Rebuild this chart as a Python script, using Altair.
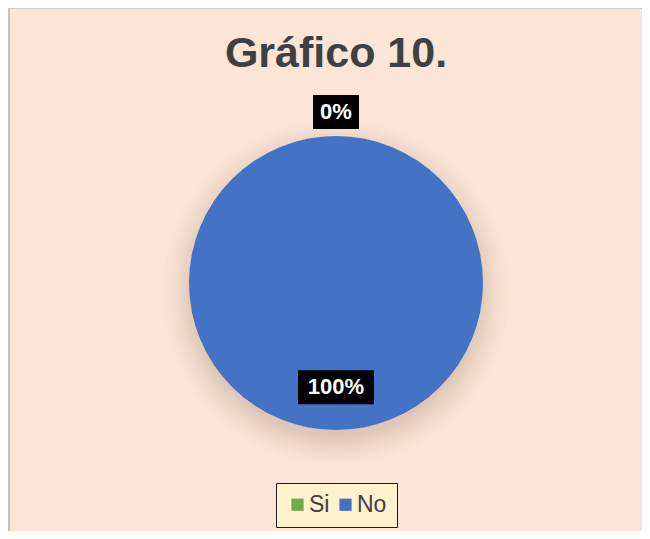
import altair as alt
import pandas as pd

# ---- data ----
titulo = "Gráfico 10."
categorias = ["Si", "No"]
valores = [0, 100]
etiquetas = ["0%", "100%"]
colores = ["#70AD47", "#4472C4"]

df = pd.DataFrame({"categoria": categorias, "valor": valores, "etiqueta": etiquetas})

# layout constants
W, H = 634, 523
CX, CY, R = 328, 275, 147

base = alt.Chart(df).transform_window(orden="row_number()")

theta = alt.Theta("valor:Q", stack=True, sort=None)
order = alt.Order("orden:Q")

shadow = base.mark_arc(
    radius=174,
    fill=alt.Gradient(
        gradient="radial",
        stops=[
            alt.GradientStop(color="rgba(130,100,85,0.30)", offset=0),
            alt.GradientStop(color="rgba(130,100,85,0.24)", offset=0.82),
            alt.GradientStop(color="rgba(130,100,85,0.09)", offset=0.91),
            alt.GradientStop(color="rgba(130,100,85,0.0)", offset=1),
        ],
    ),
).encode(theta=theta, order=order, x=alt.value(CX), y=alt.value(CY + 9))

pie = base.mark_arc(radius=R).encode(
    theta=theta,
    order=order,
    x=alt.value(CX),
    y=alt.value(CY),
    color=alt.Color(
        "categoria:N",
        scale=alt.Scale(domain=categorias, range=colores),
        sort=categorias,
        legend=alt.Legend(
            orient="none",
            legendX=268,
            legendY=475,
            direction="horizontal",
            title=None,
            fillColor="#FFF2CC",
            strokeColor="#1a1a1a",
            padding=10,
            symbolType="square",
            symbolSize=150,
            symbolStrokeWidth=0,
            labelFontSize=23,
            labelFont="Liberation Sans",
            labelColor="#404040",
            labelOffset=0,
            columnPadding=4,
        ),
    ),
)

lab = (
    base.transform_joinaggregate(total="sum(valor)")
    .transform_window(cum="sum(valor)", sort=[alt.SortField("orden")], frame=[None, 0])
    .transform_calculate(
        mid="(datum.cum - datum.valor/2) / datum.total * 2 * PI",
        r=f"datum.valor == 0 ? {R + 24} : {R * 0.71}",
    )
    .transform_calculate(
        lx=f"{CX} + datum.r * sin(datum.mid)",
        ly=f"{CY} - datum.r * cos(datum.mid)",
        hw="8 + 7.5 * length(datum.etiqueta)",
    )
    .transform_calculate(
        x1="datum.lx - datum.hw",
        x2="datum.lx + datum.hw",
        y1="datum.ly - 17",
        y2="datum.ly + 17",
    )
)

enc_box = dict(
    x=alt.X("x1:Q", scale=None), x2="x2:Q", y=alt.Y("y1:Q", scale=None), y2="y2:Q"
)
box_shadow1 = lab.mark_rect(color="black", opacity=0.10).encode(
    xOffset=alt.value(5), yOffset=alt.value(5), **enc_box
)
box_shadow2 = lab.mark_rect(color="black", opacity=0.18).encode(
    xOffset=alt.value(2), yOffset=alt.value(2), **enc_box
)
boxes = lab.mark_rect(color="black").encode(**enc_box)
texts = lab.mark_text(
    color="white", font="Liberation Sans", fontWeight="bold", fontSize=22,
    baseline="middle", align="center",
).encode(x=alt.X("lx:Q", scale=None), y=alt.Y("ly:Q", scale=None), text="etiqueta:N")

title = alt.Chart(pd.DataFrame({"t": [titulo]})).mark_text(
    font="Liberation Sans", fontWeight="bold", fontSize=43, color="#404040",
    align="center", baseline="alphabetic",
).encode(text="t:N", x=alt.value(328), y=alt.value(59))

# frame lines (left and top edges of the chart area)
frame_left = alt.Chart(pd.DataFrame({"a": [0]})).mark_rule(color="#C4C4C4", strokeWidth=2).encode(
    x=alt.value(1), y=alt.value(0), y2=alt.value(H)
)
frame_top = alt.Chart(pd.DataFrame({"a": [0]})).mark_rule(color="#C4C4C4", strokeWidth=1.5).encode(
    y=alt.value(0), x=alt.value(0), x2=alt.value(W)
)

chart = (
    alt.layer(shadow, pie, box_shadow1, box_shadow2, boxes, texts, title, frame_left, frame_top)
    .properties(width=W, height=H, autosize=alt.AutoSizeParams(type="none"), padding=0)
    .configure(background="#FBE5D6")
    .configure_view(stroke=None)
)

chart.save("out.html", embed_options={"renderer": "svg", "actions": False})
